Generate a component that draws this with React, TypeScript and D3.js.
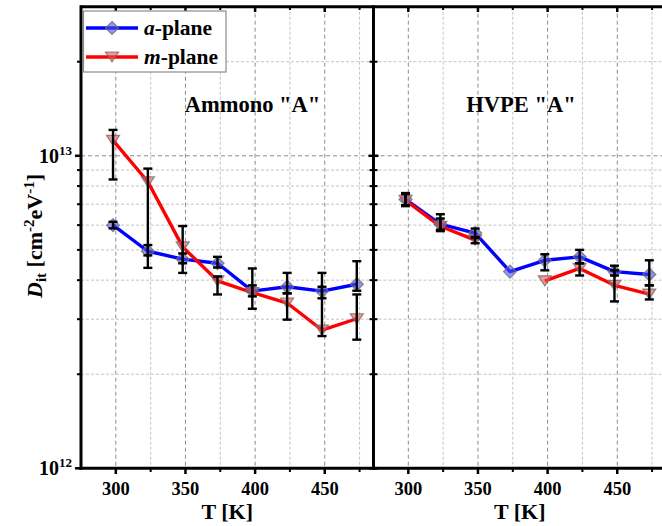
import React from "react";
import * as d3 from "d3";

// Temperatures (K)
const temps = [298, 323, 348, 373, 398, 423, 448, 473];

// Ammono "A" panel (units of 1e12 cm^-2 eV^-1)
const ammonoA = [6.0, 4.95, 4.67, 4.53, 3.69, 3.81, 3.69, 3.88];
const ammonoAHi = [6.15, 5.18, 4.87, 4.75, 3.85, 4.22, 3.81, 4.6];
const ammonoALo = [5.86, 4.8, 4.53, 4.39, 3.55, 3.63, 3.5, 3.7];
const ammonoM = [11.2, 8.26, 5.11, 3.98, 3.65, 3.38, 2.77, 3.01];
const ammonoMHi = [12.1, 9.1, 5.96, 4.11, 4.36, 3.63, 4.22, 3.6];
const ammonoMLo = [8.4, 4.38, 4.22, 3.6, 3.24, 2.99, 2.65, 2.58];

// HVPE "A" panel
const hvpeA = [7.25, 6.04, 5.66, 4.26, 4.63, 4.75, 4.26, 4.17];
const hvpeAHi = [7.55, 6.5, 5.85, NaN, 4.84, 5.0, 4.45, 4.63];
const hvpeALo = [6.95, 5.74, 5.45, NaN, 4.3, 4.53, 4.14, 3.85];
const hvpeM = [7.2, 5.95, 5.37, NaN, 3.98, 4.36, 3.85, 3.61];
const hvpeMHi = [7.6, 6.3, 5.5, NaN, NaN, 4.53, 4.3, 3.85];
const hvpeMLo = [6.9, 5.8, 5.25, NaN, NaN, 4.14, 3.42, 3.47];

const xMajor = [300, 350, 400, 450];
const xMinor = [325, 375, 425, 475];
const yMajor = [1e12, 1e13];
const yMinor = [2e12, 3e12, 4e12, 5e12, 6e12, 7e12, 8e12, 9e12, 2e13];

const W = 662, H = 526;
const FONT = "'Liberation Serif', 'Times New Roman', serif";
const BLUE = "#0000ff", RED = "#ff0000";

const y = d3.scaleLog().domain([1e12, 3e13]).range([468.3, 6.7]);
const xL = d3.scaleLinear().domain([275, 485]).range([81, 373.5]);
const xR = d3.scaleLinear().domain([275, 485]).range([373.5, 666]);

type Series = { v: number[]; hi: number[]; lo: number[] };

function Diamond({ cx, cy }: { cx: number; cy: number }) {
  const r = 6.5;
  return (
    <path
      d={`M${cx},${cy - r}L${cx + r},${cy}L${cx},${cy + r}L${cx - r},${cy}Z`}
      fill="rgba(80,80,240,0.6)"
      stroke="rgba(110,110,110,0.8)"
      strokeWidth={1.2}
    />
  );
}
function Tri({ cx, cy }: { cx: number; cy: number }) {
  const w = 6.5, h = 10;
  return (
    <path
      d={`M${cx - w},${cy - h / 2}L${cx + w},${cy - h / 2}L${cx},${cy + h / 2}Z`}
      fill="rgba(240,80,80,0.6)"
      stroke="rgba(110,110,110,0.8)"
      strokeWidth={1.2}
    />
  );
}

function Panel({ x, a, m, label, labelX }: { x: d3.ScaleLinear<number, number>; a: Series; m: Series; label: string; labelX: number }) {
  const [x0, x1] = x.range();
  const line = d3
    .line<number>()
    .defined((v) => !isNaN(v))
    .x((_, i) => x(temps[i]))
    .y((v) => y(v * 1e12));
  const err = (s: Series, key: string) =>
    temps.map((t, i) =>
      isNaN(s.hi[i]) ? null : (
        <g key={key + i} stroke="#000" strokeWidth={2.4}>
          <line x1={x(t)} x2={x(t)} y1={y(s.hi[i] * 1e12)} y2={y(s.lo[i] * 1e12)} />
          <line x1={x(t) - 4.5} x2={x(t) + 4.5} y1={y(s.hi[i] * 1e12)} y2={y(s.hi[i] * 1e12)} />
          <line x1={x(t) - 4.5} x2={x(t) + 4.5} y1={y(s.lo[i] * 1e12)} y2={y(s.lo[i] * 1e12)} />
        </g>
      )
    );
  return (
    <g>
      {/* grid */}
      {xMinor.map((t) => (
        <line key={"gx" + t} x1={x(t)} x2={x(t)} y1={6.7} y2={468.3} stroke="#c4c4c4" strokeWidth={1} strokeDasharray="3,2" />
      ))}
      {xMajor.map((t) => (
        <line key={"gX" + t} x1={x(t)} x2={x(t)} y1={6.7} y2={468.3} stroke="#8c8c8c" strokeWidth={1} strokeDasharray="4,3" />
      ))}
      {yMinor.map((v) => (
        <line key={"gy" + v} x1={x0} x2={x1} y1={y(v)} y2={y(v)} stroke="#c4c4c4" strokeWidth={1} strokeDasharray="3,2" />
      ))}
      <line x1={x0} x2={x1} y1={y(1e13)} y2={y(1e13)} stroke="#8c8c8c" strokeWidth={1} strokeDasharray="4,3" />
      {/* data */}
      <path d={line(a.v) || ""} fill="none" stroke={BLUE} strokeWidth={3.4} strokeLinejoin="round" />
      <path d={line(m.v) || ""} fill="none" stroke={RED} strokeWidth={3.4} strokeLinejoin="round" />
      {temps.map((t, i) => (!isNaN(a.v[i]) ? <Diamond key={"a" + i} cx={x(t)} cy={y(a.v[i] * 1e12)} /> : null))}
      {temps.map((t, i) => (!isNaN(m.v[i]) ? <Tri key={"m" + i} cx={x(t)} cy={y(m.v[i] * 1e12)} /> : null))}
      {err(a, "ea")}
      {err(m, "em")}
      {/* axis ticks bottom/top */}
      {xMajor.map((t) => (
        <g key={"tX" + t} stroke="#000" strokeWidth={2.5}>
          <line x1={x(t)} x2={x(t)} y1={468.3} y2={474} />
          <line x1={x(t)} x2={x(t)} y1={6.7} y2={12} />
        </g>
      ))}
      {xMinor.map((t) => (
        <g key={"tx" + t} stroke="#000" strokeWidth={2}>
          <line x1={x(t)} x2={x(t)} y1={468.3} y2={472} />
          <line x1={x(t)} x2={x(t)} y1={6.7} y2={10} />
        </g>
      ))}
      {xMajor.map((t) => (
        <text key={"lx" + t} x={x(t)} y={494.5} textAnchor="middle" fontFamily={FONT} fontWeight="bold" fontSize={18.5}>
          {t}
        </text>
      ))}
      <text x={(x0 + x1) / 2} y={518.5} textAnchor="middle" fontFamily={FONT} fontWeight="bold" fontSize={22}>
        T [K]
      </text>
      <text x={labelX} y={111.5} textAnchor="middle" fontFamily={FONT} fontWeight="bold" fontSize={22.5}>
        {label}
      </text>
    </g>
  );
}

export default function App() {
  const div = 373.5;
  return (
    <div style={{ position: "absolute", left: 0, top: 0 }}>
      <svg width={W} height={H} style={{ display: "block", background: "#fff" }}>
        <rect x={0} y={0} width={W} height={H} fill="#fff" />
        <Panel x={xL} a={{ v: ammonoA, hi: ammonoAHi, lo: ammonoALo }} m={{ v: ammonoM, hi: ammonoMHi, lo: ammonoMLo }} label={'Ammono "A"'} labelX={252.5} />
        <Panel x={xR} a={{ v: hvpeA, hi: hvpeAHi, lo: hvpeALo }} m={{ v: hvpeM, hi: hvpeMHi, lo: hvpeMLo }} label={'HVPE "A"'} labelX={521} />
        {/* frame */}
        <line x1={81} x2={W} y1={6.7} y2={6.7} stroke="#000" strokeWidth={3} />
        <line x1={79.5} x2={W} y1={468.3} y2={468.3} stroke="#000" strokeWidth={3} />
        <line x1={81} x2={81} y1={5.2} y2={469.8} stroke="#000" strokeWidth={3} />
        <line x1={div} x2={div} y1={5.2} y2={469.8} stroke="#000" strokeWidth={3} />
        {/* y ticks */}
        {yMajor.map((v) => (
          <g key={"ty" + v} stroke="#000" strokeWidth={2.5}>
            <line x1={75} x2={81} y1={y(v)} y2={y(v)} />
            <line x1={div - 5} x2={div + 5} y1={y(v)} y2={y(v)} />
          </g>
        ))}
        {yMinor.map((v) => (
          <g key={"tyn" + v} stroke="#000" strokeWidth={2}>
            <line x1={77} x2={81} y1={y(v)} y2={y(v)} />
            <line x1={div - 4} x2={div + 4} y1={y(v)} y2={y(v)} />
          </g>
        ))}
        {yMajor.map((v) => (
          <text key={"ly" + v} x={72} y={y(v) + 7} textAnchor="end" fontFamily={FONT} fontWeight="bold" fontSize={20}>
            10
            <tspan dy={-8} fontSize={13}>
              {Math.round(Math.log10(v))}
            </tspan>
          </text>
        ))}
        <text transform="translate(42,236) rotate(-90)" textAnchor="middle" fontFamily={FONT} fontWeight="bold" fontSize={22}>
          <tspan fontStyle="italic">D</tspan>
          <tspan dy={4} fontSize={15}>it</tspan>
          <tspan dy={-4}> [cm</tspan>
          <tspan dy={-8} fontSize={15}>-2</tspan>
          <tspan dy={8}>eV</tspan>
          <tspan dy={-8} fontSize={15}>-1</tspan>
          <tspan dy={8}>]</tspan>
        </text>
        {/* legend */}
        <rect x={83.5} y={11} width={142.5} height={61} fill="#fff" stroke="#8a8a8a" strokeWidth={1.2} />
        <line x1={86} x2={138} y1={28} y2={28} stroke={BLUE} strokeWidth={3.4} />
        <Diamond cx={112} cy={28} />
        <line x1={86} x2={138} y1={57} y2={57} stroke={RED} strokeWidth={3.4} />
        <Tri cx={112} cy={57} />
        <text x={144} y={35} fontFamily={FONT} fontWeight="bold" fontSize={21.5}>
          <tspan fontStyle="italic">a</tspan>-plane
        </text>
        <text x={144} y={64} fontFamily={FONT} fontWeight="bold" fontSize={21.5}>
          <tspan fontStyle="italic">m</tspan>-plane
        </text>
      </svg>
    </div>
  );
}
